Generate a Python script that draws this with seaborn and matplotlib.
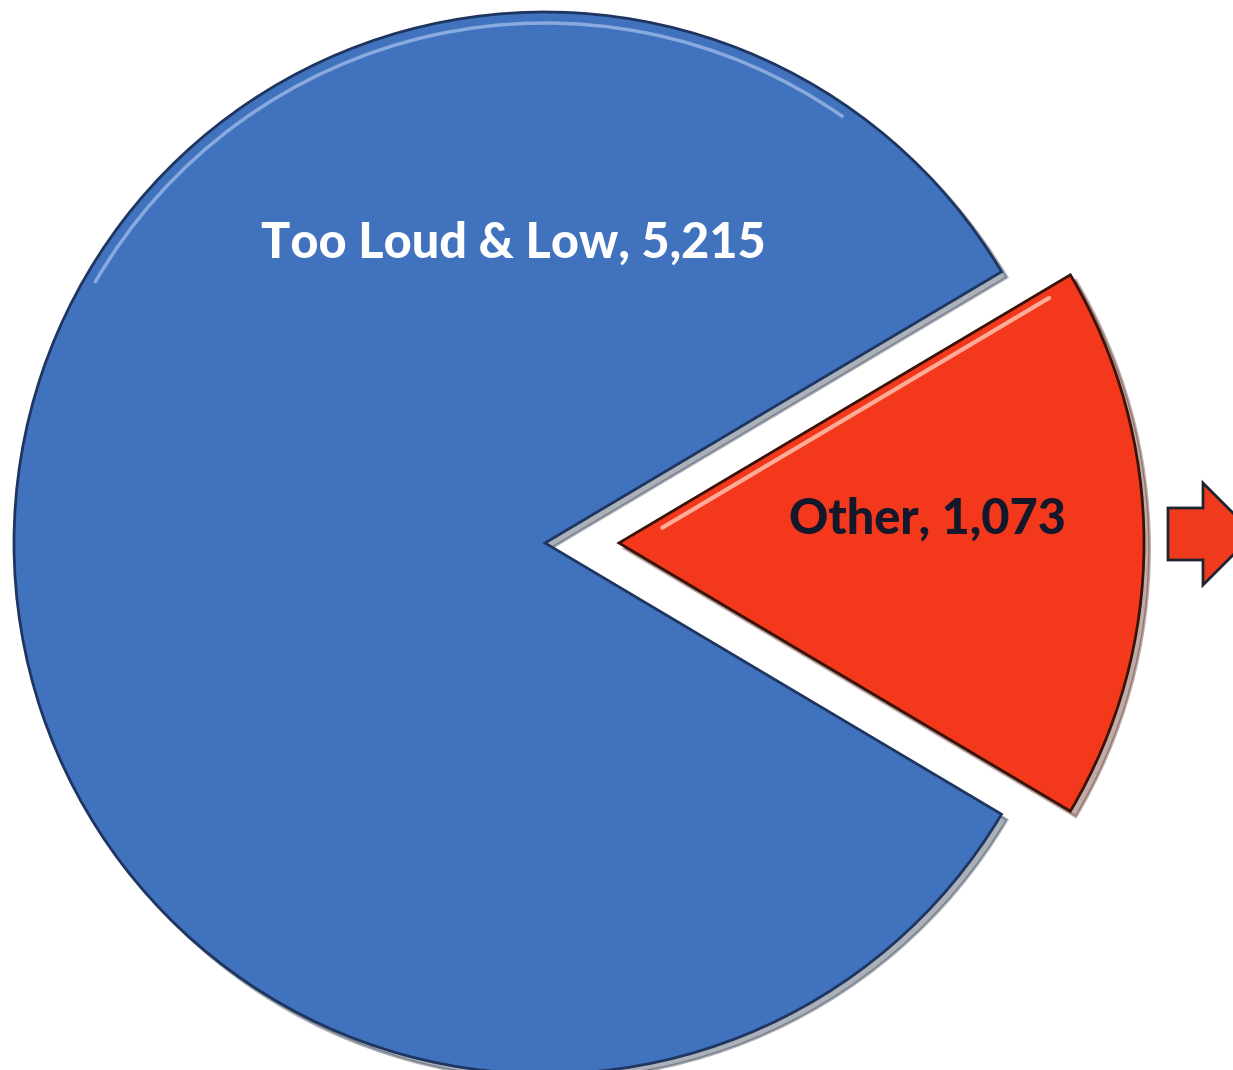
"""
Pie chart: Too Loud & Low vs Other
"""
import matplotlib.pyplot as plt
import matplotlib.patches as mpatches
import seaborn as sns
import numpy as np

# data
categories = ['Other', 'Too Loud & Low']
counts = [1073, 5215]
slice_colors = ['#F4381B', '#4072BE']
edge_colors = ['#3A1208', '#1E3560']
text_colors = ['#15182A', '#FFFFFF']

sns.set_style("white")
plt.rcParams['font.family'] = ['Lato', 'DejaVu Sans']

fig = plt.figure(figsize=(12.33, 10.70), dpi=100)
ax = fig.add_axes([0, 0, 1, 1])

cx, cy, r = 545, 527, 531
gap = 74
other_share = counts[0] / sum(counts) * 360

wedges, _ = ax.pie(counts, colors=slice_colors, startangle=-other_share / 2,
                   counterclock=True, center=(cx, cy), radius=r,
                   explode=[gap, 0], frame=True,
                   wedgeprops=dict(linewidth=2.0, zorder=3))
wedges[0].set_radius(525)
for w, ec in zip(wedges, edge_colors):
    w.set_edgecolor(ec)
    sh = mpatches.Shadow(w, 4, -4, alpha=0.35, zorder=2)
    ax.add_patch(sh)

# glossy highlight along the blue rim
ax.add_patch(mpatches.Arc((cx, cy), 2 * r - 22, 2 * r - 22, theta1=55, theta2=150,
                          color='#A9C2EC', lw=2.5, alpha=0.7, zorder=4))

# glossy highlight along the upper edge of the red slice
half = np.deg2rad(other_share / 2)
along = np.array([np.cos(half), np.sin(half)])
inward = np.array([np.sin(half), -np.cos(half)])
apex = np.array([cx + gap, cy])
p0 = apex + along * 45 + inward * 9
p1 = apex + along * 495 + inward * 9
ax.plot([p0[0], p1[0]], [p0[1], p1[1]], color='#FFC2AE', lw=3, alpha=0.85,
        solid_capstyle='round', zorder=4)

ax.set_xlim(0, 1233)
ax.set_ylim(0, 1070)
ax.set_aspect('equal')
ax.axis('off')

# labels
ax.text(513, 1070 - 243, f"{categories[1]}, {counts[1]:,}", color=text_colors[1],
        fontsize=35, fontweight='black', ha='center', va='center', zorder=5)
ax.text(927, 1070 - 519, f"{categories[0]}, {counts[0]:,}", color=text_colors[0],
        fontsize=35, fontweight='black', ha='center', va='center', zorder=5)

# arrow on the right edge
arrow = mpatches.FancyArrow(1168, 1070 - 534, 86, 0, width=52, head_width=102,
                            head_length=51, length_includes_head=True,
                            facecolor='#F03A1E', edgecolor='#1E2430', linewidth=2,
                            zorder=3)
ax.add_patch(arrow)

fig.savefig('out.png', dpi=100, facecolor='white')
plt.close()
